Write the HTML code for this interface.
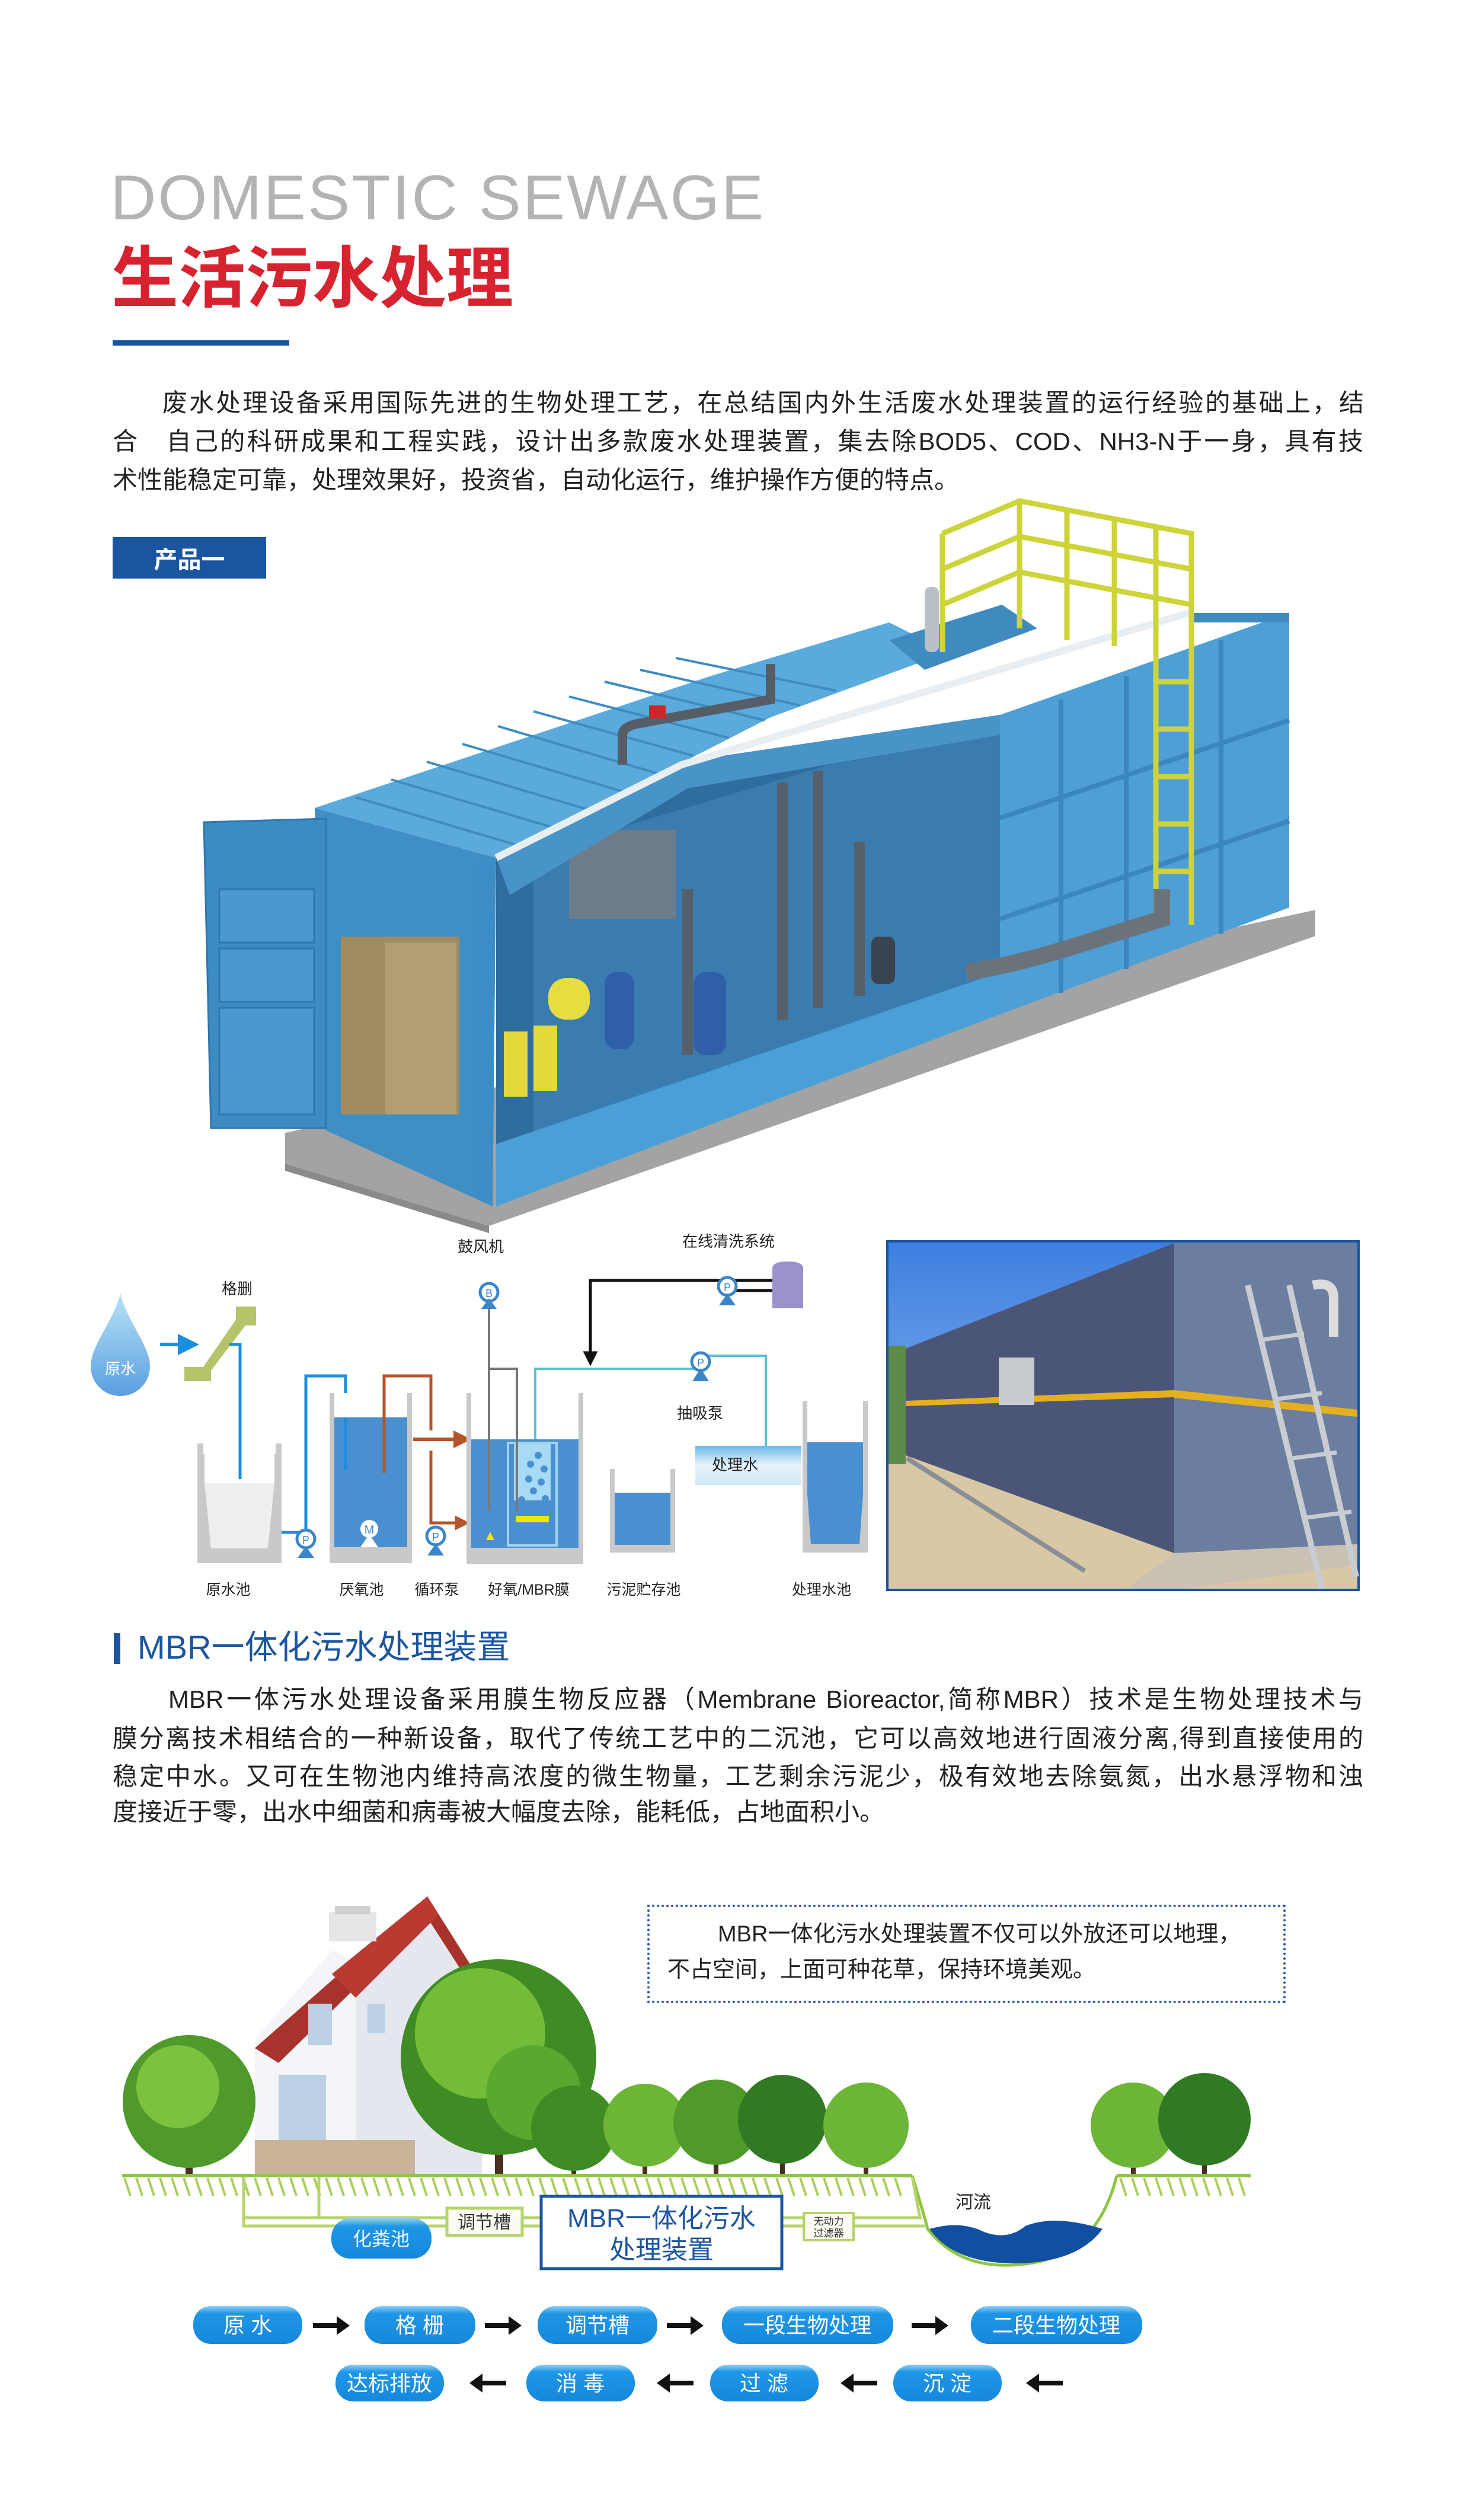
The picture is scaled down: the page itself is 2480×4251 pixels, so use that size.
<!DOCTYPE html>
<html><head><meta charset="utf-8">
<style>
html,body{margin:0;padding:0;background:#fff;}
body{width:2480px;height:4251px;position:relative;overflow:hidden;font-family:"Liberation Sans","Noto Sans CJK SC",sans-serif;}
.abs{position:absolute;}
.jl{position:absolute;left:190px;width:2110px;text-align:justify;text-align-last:justify;white-space:nowrap;color:#222;}
.p1{font-size:42px;line-height:42px;}
.p2{font-size:42px;line-height:42px;}
</style></head><body>

<div class="abs" style="left:186px;top:280px;font-size:107px;color:#b3b3b3;letter-spacing:3px;line-height:107px;white-space:nowrap;">DOMESTIC SEWAGE</div>
<div class="abs" style="left:188px;top:400px;font-size:113px;font-weight:bold;color:#d7232f;line-height:120px;white-space:nowrap;font-family:'Noto Sans CJK SC',sans-serif;">生活污水处理</div>
<div class="abs" style="left:190px;top:574px;width:298px;height:9px;background:#1b55a0;"></div>

<div class="jl p1" style="top:659px;left:274px;width:2027px;">废水处理设备采用国际先进的生物处理工艺，在总结国内外生活废水处理装置的运行经验的基础上，结</div>
<div class="jl p1" style="top:724px;">合　自己的科研成果和工程实践，设计出多款废水处理装置，集去除BOD5、COD、NH3-N于一身，具有技</div>
<div class="jl p1" style="top:789px;text-align-last:left;">术性能稳定可靠，处理效果好，投资省，自动化运行，维护操作方便的特点。</div>

<div class="abs" style="left:190px;top:906px;width:259px;height:70px;background:#1b55a0;color:#fff;font-weight:bold;font-size:40px;line-height:70px;text-align:center;font-family:'Noto Sans CJK SC',sans-serif;">产品一</div>

<div class="abs" style="left:192px;top:2755px;width:11px;height:52px;background:#1b55a0;"></div>
<div class="abs" style="left:232px;top:2746px;font-size:56px;line-height:66px;color:#1b55a0;white-space:nowrap;">MBR一体化污水处理装置</div>

<div class="jl p2" style="top:2846px;left:284px;width:2016px;">MBR一体污水处理设备采用膜生物反应器（Membrane Bioreactor,简称MBR）技术是生物处理技术与</div>
<div class="jl p2" style="top:2912px;">膜分离技术相结合的一种新设备，取代了传统工艺中的二沉池，它可以高效地进行固液分离,得到直接使用的</div>
<div class="jl p2" style="top:2976px;">稳定中水。又可在生物池内维持高浓度的微生物量，工艺剩余污泥少，极有效地去除氨氮，出水悬浮物和浊</div>
<div class="jl p2" style="top:3036px;text-align-last:left;">度接近于零，出水中细菌和病毒被大幅度去除，能耗低，占地面积小。</div>

<div class="abs" style="left:1092px;top:3213px;width:1069px;height:158px;border:4px dotted #2a5aa5;"></div>
<div class="abs" style="left:1211px;top:3243px;font-size:38px;line-height:40px;color:#222;white-space:nowrap;">MBR一体化污水处理装置不仅可以外放还可以地理，</div>
<div class="abs" style="left:1126px;top:3303px;font-size:38px;line-height:40px;color:#222;white-space:nowrap;">不占空间，上面可种花草，保持环境美观。</div>

<svg class="abs" style="left:0;top:0" width="2480" height="4251" viewBox="0 0 2480 4251" font-family="Liberation Sans, Noto Sans CJK SC, sans-serif">
<defs>
<linearGradient id="drop" x1="0" y1="0" x2="0" y2="1"><stop offset="0" stop-color="#b8e3f8"/><stop offset="1" stop-color="#5a9fe0"/></linearGradient>
<linearGradient id="band" x1="0" y1="0" x2="0" y2="1"><stop offset="0" stop-color="#6bb8ea"/><stop offset="0.5" stop-color="#e8f4fb"/><stop offset="1" stop-color="#cfe7f7"/></linearGradient>
<linearGradient id="pill" x1="0" y1="0" x2="0" y2="1"><stop offset="0" stop-color="#8fd0f5"/><stop offset="0.2" stop-color="#1f96e6"/><stop offset="1" stop-color="#1688dc"/></linearGradient>
<linearGradient id="sky" x1="0" y1="0" x2="0" y2="1"><stop offset="0" stop-color="#3d7fe0"/><stop offset="1" stop-color="#a8c8ee"/></linearGradient>
<marker id="ab" markerWidth="6" markerHeight="6" refX="3" refY="3" orient="auto"><path d="M0,0 L6,3 L0,6 z" fill="#1a8fe0"/></marker>
<marker id="ar" markerWidth="5" markerHeight="5" refX="2.5" refY="2.5" orient="auto"><path d="M0,0 L5,2.5 L0,5 z" fill="#b5532a"/></marker>
<marker id="ak" markerWidth="5" markerHeight="5" refX="2.5" refY="2.5" orient="auto"><path d="M0,0 L5,2.5 L0,5 z" fill="#111"/></marker>
</defs>

<!-- ===== container ===== -->
<polygon points="481,1911 2219,1535 2219,1579 825,2068 481,1963" fill="#a3a3a3"/>
<polygon points="481,1963 825,2068 825,2080 481,1975" fill="#8a8a8a"/>
<polygon points="531,1363 837,1447 831,2035 550,1907" fill="#3f8ec4"/>
<polygon points="344,1387 550,1381 550,1903 356,1903" fill="#3d8bc3" stroke="#2f77ad" stroke-width="3"/>
<rect x="370" y="1500" width="160" height="90" fill="#4b98cf" stroke="#2f77ad" stroke-width="3"/>
<rect x="370" y="1600" width="160" height="90" fill="#4b98cf" stroke="#2f77ad" stroke-width="3"/>
<rect x="370" y="1700" width="160" height="180" fill="#4b98cf" stroke="#2f77ad" stroke-width="3"/>
<polygon points="837,1447 1160,1290 1687,1206 1687,1711 837,2020" fill="#2f6d9e"/>
<polygon points="900,1440 1400,1290 1687,1240 1687,1700 900,1980" fill="#3a7cb0"/>
<rect x="575" y="1580" width="200" height="300" fill="#a08c62"/>
<rect x="650" y="1590" width="120" height="290" fill="#b29e72"/>
<rect x="960" y="1400" width="180" height="150" fill="#6c7c8a"/>
<rect x="1020" y="1640" width="50" height="130" rx="20" fill="#2f5fa8"/>
<rect x="1170" y="1640" width="55" height="140" rx="20" fill="#2f5fa8"/>
<rect x="850" y="1740" width="40" height="110" fill="#e3d93a"/>
<rect x="900" y="1730" width="40" height="110" fill="#e3d93a"/>
<rect x="925" y="1650" width="70" height="70" rx="30" fill="#e6dd40"/>
<g stroke="#55606a" stroke-width="18" fill="none">
<path d="M1320 1320 V1720"/><path d="M1380 1300 V1700"/><path d="M1160 1500 V1780"/><path d="M1450 1420 V1680"/>
</g>
<rect x="1470" y="1580" width="40" height="80" rx="12" fill="#3a4450"/>
<polygon points="837,1930 1687,1640 1687,1711 837,2035" fill="#4aa0d6"/>
<polygon points="800,1460 837,1447 831,2035 800,2020" fill="#3c8dc5"/>
<polygon points="531,1363 837,1447 1300,1210 1600,1100 1500,1050 1200,1140" fill="#5aaade"/>
<g stroke="#3f8bc0" stroke-width="4">
<line x1="600" y1="1345" x2="870" y2="1425"/><line x1="660" y1="1315" x2="930" y2="1395"/><line x1="720" y1="1285" x2="990" y2="1365"/><line x1="780" y1="1255" x2="1050" y2="1335"/><line x1="840" y1="1225" x2="1110" y2="1305"/><line x1="900" y1="1200" x2="1170" y2="1275"/><line x1="960" y1="1175" x2="1230" y2="1245"/><line x1="1020" y1="1150" x2="1290" y2="1215"/><line x1="1080" y1="1130" x2="1350" y2="1190"/><line x1="1140" y1="1110" x2="1410" y2="1165"/>
</g>
<polygon points="837,1447 1150,1285 1687,1206 1687,1240 1160,1330 860,1510" fill="#4893c8"/>
<polyline points="837,1447 1150,1290 2006,1034" fill="none" stroke="#e8eef2" stroke-width="12"/>
<polygon points="1687,1206 2175,1034 2175,1531 1687,1711" fill="#4d9fd6"/>
<polygon points="2006,1034 2175,1034 2175,1050 2006,1050" fill="#3f8bc0"/>
<g stroke="#3a86bd" stroke-width="8" fill="none">
<line x1="1790" y1="1180" x2="1790" y2="1675"/><line x1="1900" y1="1140" x2="1900" y2="1635"/><line x1="2060" y1="1080" x2="2060" y2="1575"/>
<line x1="1687" y1="1380" x2="2175" y2="1215"/><line x1="1687" y1="1550" x2="2175" y2="1385"/>
</g>
<polygon points="1500,1080 1690,1020 1750,1060 1560,1130" fill="#3f8bc0"/>
<path d="M1050 1290 V1240 Q1050 1225 1080 1220 L1300 1180 V1120" stroke="#555e66" stroke-width="16" fill="none"/>
<rect x="1095" y="1190" width="28" height="22" fill="#c8282a"/>
<rect x="1560" y="990" width="24" height="110" rx="10" fill="#b8bfc6"/>
<g stroke="#cdd43a" stroke-width="9" fill="none">
<polyline points="1590,900 1590,1100"/><polyline points="1590,900 1720,845 2010,900 2010,1100"/>
<polyline points="1590,960 1720,905 2010,960"/><polyline points="1590,1020 1720,965 2010,1020"/>
<line x1="1720" y1="845" x2="1720" y2="1060"/><line x1="1800" y1="860" x2="1800" y2="1080"/><line x1="1880" y1="875" x2="1880" y2="1090"/><line x1="1950" y1="890" x2="1950" y2="1095"/>
<line x1="1950" y1="1070" x2="1950" y2="1560"/><line x1="2010" y1="1060" x2="2010" y2="1560"/>
<line x1="1950" y1="1150" x2="2010" y2="1150"/><line x1="1950" y1="1230" x2="2010" y2="1230"/><line x1="1950" y1="1310" x2="2010" y2="1310"/><line x1="1950" y1="1390" x2="2010" y2="1390"/><line x1="1950" y1="1470" x2="2010" y2="1470"/>
</g>
<path d="M1630 1640 Q1700 1630 1800 1600 L1960 1550 V1500" stroke="#6b737a" stroke-width="28" fill="none"/>

<!-- ===== process diagram ===== -->
<g font-size="26" fill="#222" text-anchor="middle">
<path d="M203 2182 C215 2230 253 2270 253 2305 A50 50 0 0 1 153 2305 C153 2270 191 2230 203 2182z" fill="url(#drop)"/>
<text x="203" y="2318" fill="#fff" font-size="26">原水</text>
<text x="400" y="2183">格删</text>
<polygon points="398,2204 432,2204 432,2236 414,2236 356,2312 356,2330 311,2330 311,2306 343,2306 398,2226" fill="#b5c46a"/>
<line x1="270" y1="2268" x2="318" y2="2268" stroke="#1a8fe0" stroke-width="6" marker-end="url(#ab)"/>
<path d="M387 2268 H405 V2490" stroke="#1a8fe0" stroke-width="5" fill="none" marker-end="url(#ab)"/>
<rect x="333" y="2435" width="142" height="202" fill="#c9c9c9"/>
<rect x="345" y="2435" width="118" height="67" fill="#fff"/>
<polygon points="345,2502 463,2502 452,2612 356,2612" fill="#eeeeee"/>
<rect x="343" y="2435" width="12" height="18" fill="#fff"/><rect x="453" y="2435" width="12" height="18" fill="#fff"/>
<path d="M405 2270 V2495" stroke="#1a8fe0" stroke-width="5"/>
<path d="M475 2585 H510" stroke="#1a8fe0" stroke-width="5"/>
<path d="M516 2590 V2321 H583 V2480" stroke="#1a8fe0" stroke-width="5" fill="none" marker-end="url(#ab)"/>
<rect x="556" y="2350" width="139" height="287" fill="#c9c9c9"/>
<rect x="564" y="2350" width="123" height="41" fill="#fff"/>
<polygon points="564,2391 687,2391 687,2610 564,2610" fill="#4a90d0"/>
<path d="M583 2391 V2480" stroke="#1a8fe0" stroke-width="5"/>
<circle cx="623" cy="2579" r="15" fill="#fff"/><text x="623" y="2587" font-size="20" fill="#4a90d0">M</text>
<polygon points="608,2610 638,2610 623,2588" fill="#fff"/>
<path d="M648 2485 V2321 H727 V2413" stroke="#b5532a" stroke-width="5" fill="none"/>
<path d="M697 2428 H780" stroke="#b5532a" stroke-width="6" fill="none" marker-end="url(#ar)"/>
<path d="M727 2447 V2569 H780" stroke="#b5532a" stroke-width="5" fill="none" marker-end="url(#ar)"/>
<rect x="787" y="2350" width="197" height="288" fill="#c9c9c9"/>
<rect x="795" y="2350" width="181" height="78" fill="#fff"/>
<rect x="795" y="2428" width="181" height="183" fill="#4a90d0"/>
<rect x="857" y="2434" width="82" height="173" fill="none" stroke="#9fd3f0" stroke-width="4"/>
<rect x="867" y="2436" width="62" height="95" fill="#a7daf4"/>
<g fill="#4a90d0"><circle cx="908" cy="2455" r="6"/><circle cx="895" cy="2470" r="6"/><circle cx="918" cy="2478" r="6"/><circle cx="892" cy="2495" r="6"/><circle cx="913" cy="2500" r="6"/><circle cx="900" cy="2515" r="6"/><circle cx="880" cy="2530" r="6"/><circle cx="920" cy="2528" r="6"/></g>
<rect x="870" y="2557" width="56" height="11" fill="#f2e600"/>
<polygon points="820,2598 834,2598 827,2584" fill="#f2e600"/>
<text x="811" y="2112">鼓风机</text>
<circle cx="825" cy="2180" r="15" fill="#fff" stroke="#3a86c8" stroke-width="5"/><text x="825" y="2188" font-size="18" fill="#3a86c8">B</text>
<polygon points="812,2208 838,2208 825,2190" fill="#3a86c8"/>
<path d="M825 2208 V2548" stroke="#777" stroke-width="4"/>
<path d="M825 2309 H872 V2548" stroke="#777" stroke-width="4" fill="none"/>
<text x="1229" y="2103">在线清洗系统</text>
<path d="M1303 2160 H996 V2292" stroke="#111" stroke-width="5" fill="none" marker-end="url(#ak)"/>
<path d="M1240 2177 H1303" stroke="#111" stroke-width="5"/>
<circle cx="1227" cy="2170" r="15" fill="#fff" stroke="#3a86c8" stroke-width="5"/><text x="1227" y="2178" font-size="18" fill="#3a86c8">P</text>
<polygon points="1213,2202 1241,2202 1227,2182" fill="#3a86c8"/>
<path d="M1303 2207 V2140 Q1303 2128 1329 2128 Q1355 2128 1355 2140 V2207z" fill="#9a92c8"/>
<path d="M903 2428 V2309 H1170" stroke="#5cc0d0" stroke-width="4" fill="none"/>
<path d="M1195 2287 H1292 V2439" stroke="#5cc0d0" stroke-width="4" fill="none"/>
<circle cx="1182" cy="2297" r="15" fill="#fff" stroke="#3a86c8" stroke-width="5"/><text x="1182" y="2305" font-size="18" fill="#3a86c8">P</text>
<polygon points="1168,2330 1196,2330 1182,2308" fill="#3a86c8"/>
<text x="1181" y="2393">抽吸泵</text>
<rect x="1173" y="2439" width="179" height="66" fill="url(#band)"/>
<text x="1240" y="2480">处理水</text>
<rect x="1029" y="2478" width="110" height="141" fill="#c9c9c9"/>
<rect x="1037" y="2478" width="94" height="40" fill="#fff"/>
<rect x="1037" y="2518" width="94" height="88" fill="#4a90d0"/>
<rect x="1354" y="2363" width="110" height="256" fill="#c9c9c9"/>
<rect x="1362" y="2363" width="94" height="70" fill="#fff"/>
<polygon points="1362,2433 1456,2433 1456,2520 1450,2605 1368,2605 1362,2520" fill="#4a90d0"/>
<circle cx="516" cy="2596" r="15" fill="#fff" stroke="#3a86c8" stroke-width="5"/><text x="516" y="2604" font-size="18" fill="#3a86c8">P</text>
<polygon points="502,2628 530,2628 516,2608" fill="#3a86c8"/>
<circle cx="735" cy="2591" r="15" fill="#fff" stroke="#3a86c8" stroke-width="5"/><text x="735" y="2599" font-size="18" fill="#3a86c8">P</text>
<polygon points="721,2624 749,2624 735,2604" fill="#3a86c8"/>
<g font-size="25"><text x="385" y="2690">原水池</text><text x="610" y="2690">厌氧池</text><text x="737" y="2690">循环泵</text><text x="892" y="2690">好氧/MBR膜</text><text x="1086" y="2690">污泥贮存池</text><text x="1386" y="2690">处理水池</text></g>
</g>

<!-- ===== photo ===== -->
<rect x="1497" y="2094" width="795" height="588" fill="url(#sky)" stroke="#1b55a0" stroke-width="4"/>
<polygon points="1499,2450 2290,2520 2290,2680 1499,2680" fill="#d9c8a6"/>
<polygon points="1499,2270 1528,2270 1528,2470 1499,2470" fill="#5e8a4a"/>
<polygon points="1528,2275 1981,2097 1981,2620 1528,2455" fill="#4b5577"/>
<polygon points="1981,2097 2290,2097 2290,2605 1981,2620" fill="#6c7ea0"/>
<polygon points="1528,2363 1981,2345 1981,2357 1528,2372" fill="#e5b020"/>
<polygon points="1981,2345 2290,2378 2290,2390 1981,2358" fill="#e5b020"/>
<polygon points="1981,2620 2290,2605 2290,2640 2000,2680 1900,2680" fill="#c9c2b4"/>
<rect x="1685" y="2290" width="60" height="80" fill="#c8ccd0"/>
<g stroke="#c9cdd1" stroke-width="10"><line x1="2105" y1="2168" x2="2230" y2="2680"/><line x1="2175" y1="2168" x2="2288" y2="2660"/></g>
<g stroke="#c9cdd1" stroke-width="7"><line x1="2130" y1="2260" x2="2200" y2="2250"/><line x1="2155" y1="2360" x2="2230" y2="2350"/><line x1="2180" y1="2460" x2="2255" y2="2450"/><line x1="2205" y1="2560" x2="2280" y2="2550"/></g>
<path d="M2215 2168 Q2250 2160 2250 2190 V2255" stroke="#dcdcdc" stroke-width="16" fill="none"/>
<line x1="1530" y1="2460" x2="1830" y2="2650" stroke="#8a8f96" stroke-width="8"/>

<!-- ===== scene ===== -->
<!-- house -->
<polygon points="430,3440 560,3290 600,3310 600,3668 430,3668" fill="#f3f5f8"/>
<polygon points="600,3310 721,3220 813,3345 813,3668 600,3668" fill="#e4e8ee"/>
<polygon points="721,3199 813,3345 795,3350 721,3235 470,3480 430,3455" fill="#a8322c"/>
<polygon points="721,3199 740,3230 600,3370 560,3330" fill="#b83a31"/>
<rect x="555" y="3225" width="80" height="50" fill="#e6e6e6"/>
<rect x="565" y="3215" width="60" height="14" fill="#cfcfcf"/>
<rect x="470" y="3500" width="80" height="120" fill="#bcd0e6"/>
<rect x="520" y="3380" width="40" height="70" fill="#bcd0e6"/>
<rect x="620" y="3380" width="30" height="50" fill="#bcd0e6"/>
<rect x="430" y="3610" width="270" height="58" fill="#c9b49a"/>
<!-- trees -->
<g>
<rect x="313" y="3560" width="12" height="110" fill="#4a3020"/>
<circle cx="319" cy="3545" r="112" fill="#4f9a2a"/><circle cx="300" cy="3520" r="70" fill="#7cc23e"/>
<rect x="835" y="3500" width="14" height="170" fill="#4a3020"/>
<circle cx="841" cy="3470" r="165" fill="#3f8c25"/><circle cx="810" cy="3430" r="110" fill="#74bb38"/><circle cx="900" cy="3530" r="80" fill="#5aa82e"/>
<g fill="#4a3020"><rect x="964" y="3600" width="8" height="70"/><rect x="1084" y="3600" width="8" height="70"/><rect x="1204" y="3600" width="8" height="70"/><rect x="1316" y="3600" width="8" height="70"/><rect x="1457" y="3600" width="8" height="70"/><rect x="1908" y="3600" width="8" height="70"/><rect x="2028" y="3600" width="8" height="70"/></g>
<circle cx="968" cy="3590" r="72" fill="#3f8c25"/><circle cx="1088" cy="3585" r="70" fill="#6cb536"/><circle cx="1208" cy="3580" r="72" fill="#4f9a2a"/><circle cx="1320" cy="3575" r="75" fill="#2f7a22"/><circle cx="1461" cy="3585" r="72" fill="#6cb536"/>
<circle cx="1912" cy="3585" r="72" fill="#6cb536"/><circle cx="2032" cy="3575" r="78" fill="#2f7a22"/>
</g>
<line x1="206" y1="3670" x2="1539" y2="3670" stroke="#8dc63f" stroke-width="6"/>
<line x1="1884" y1="3670" x2="2110" y2="3670" stroke="#8dc63f" stroke-width="6"/>
<path d="M210 3674 l10 30 M230 3674 l10 30 M250 3674 l10 30 M270 3674 l10 30 M290 3674 l10 30 M310 3674 l10 30 M330 3674 l10 30 M350 3674 l10 30 M370 3674 l10 30 M390 3674 l10 30 M410 3674 l10 30 M430 3674 l10 30 M450 3674 l10 30 M470 3674 l10 30 M490 3674 l10 30 M510 3674 l10 30 M530 3674 l10 30 M550 3674 l10 30 M570 3674 l10 30 M590 3674 l10 30 M610 3674 l10 30 M630 3674 l10 30 M650 3674 l10 30 M670 3674 l10 30 M690 3674 l10 30 M710 3674 l10 30 M730 3674 l10 30 M750 3674 l10 30 M770 3674 l10 30 M790 3674 l10 30 M810 3674 l10 30 M830 3674 l10 30 M850 3674 l10 30 M870 3674 l10 30 M890 3674 l10 30 M910 3674 l10 30 M930 3674 l10 30 M950 3674 l10 30 M970 3674 l10 30 M990 3674 l10 30 M1010 3674 l10 30 M1030 3674 l10 30 M1050 3674 l10 30 M1070 3674 l10 30 M1090 3674 l10 30 M1110 3674 l10 30 M1130 3674 l10 30 M1150 3674 l10 30 M1170 3674 l10 30 M1190 3674 l10 30 M1210 3674 l10 30 M1230 3674 l10 30 M1250 3674 l10 30 M1270 3674 l10 30 M1290 3674 l10 30 M1310 3674 l10 30 M1330 3674 l10 30 M1350 3674 l10 30 M1370 3674 l10 30 M1390 3674 l10 30 M1410 3674 l10 30 M1430 3674 l10 30 M1450 3674 l10 30 M1470 3674 l10 30 M1490 3674 l10 30 M1510 3674 l10 30 M1890 3674 l10 30 M1910 3674 l10 30 M1930 3674 l10 30 M1950 3674 l10 30 M1970 3674 l10 30 M1990 3674 l10 30 M2010 3674 l10 30 M2030 3674 l10 30 M2050 3674 l10 30 M2070 3674 l10 30 M2090 3674 l10 30" stroke="#a7cf5a" stroke-width="4"/>
<path d="M1539 3670 Q1560 3740 1565 3760 Q1620 3830 1720 3820 Q1850 3810 1884 3670" fill="none" stroke="#8dc63f" stroke-width="5"/>
<path d="M1568 3760 Q1620 3745 1660 3765 Q1700 3780 1730 3755 Q1780 3735 1860 3760 Q1820 3815 1720 3818 Q1610 3820 1568 3760z" fill="#114fa0"/>
<text x="1642" y="3725" font-size="30" fill="#222" text-anchor="middle">河流</text>
<g fill="none" stroke="#b6d46a" stroke-width="5">
<path d="M411 3672 V3741 H912"/><path d="M411 3672 V3755 H912"/><path d="M538 3672 V3741"/>
<path d="M1321 3741 H1552 L1539 3672"/><path d="M1321 3755 H1560"/>
</g>
<rect x="559" y="3742" width="169" height="68" rx="32" fill="url(#pill)"/>
<text x="643" y="3788" font-size="32" fill="#e8f4ff" text-anchor="middle">化粪池</text>
<rect x="754" y="3725" width="127" height="46" fill="#fbfbf2" stroke="#b6d46a" stroke-width="5"/>
<text x="817" y="3759" font-size="30" fill="#333" text-anchor="middle">调节槽</text>
<rect x="913" y="3705" width="406" height="122" fill="#fff" stroke="#1b55a0" stroke-width="5"/>
<text x="1116" y="3757" font-size="44" fill="#1b55a0" text-anchor="middle">MBR一体化污水</text>
<text x="1116" y="3810" font-size="44" fill="#1b55a0" text-anchor="middle">处理装置</text>
<rect x="1356" y="3733" width="84" height="46" fill="#fbfbf2" stroke="#b6d46a" stroke-width="4"/>
<text x="1398" y="3753" font-size="17" fill="#333" text-anchor="middle">无动力</text>
<text x="1398" y="3773" font-size="17" fill="#333" text-anchor="middle">过滤器</text>

<g font-size="36" fill="#fff" text-anchor="middle">
<rect x="326" y="3890" width="184" height="64" rx="30" fill="url(#pill)"/><text x="418" y="3935">原 水</text>
<rect x="615" y="3890" width="187" height="64" rx="30" fill="url(#pill)"/><text x="708" y="3935">格 栅</text>
<rect x="907" y="3890" width="202" height="64" rx="30" fill="url(#pill)"/><text x="1008" y="3935">调节槽</text>
<rect x="1218" y="3890" width="289" height="64" rx="30" fill="url(#pill)"/><text x="1362" y="3935">一段生物处理</text>
<rect x="1638" y="3890" width="289" height="64" rx="30" fill="url(#pill)"/><text x="1782" y="3935">二段生物处理</text>
<rect x="566" y="3989" width="183" height="62" rx="30" fill="url(#pill)"/><text x="657" y="4033">达标排放</text>
<rect x="888" y="3989" width="183" height="62" rx="30" fill="url(#pill)"/><text x="979" y="4033">消 毒</text>
<rect x="1198" y="3989" width="183" height="62" rx="30" fill="url(#pill)"/><text x="1289" y="4033">过 滤</text>
<rect x="1507" y="3989" width="183" height="62" rx="30" fill="url(#pill)"/><text x="1598" y="4033">沉 淀</text>
</g>
<g fill="#111">
<path d="M528 3919 h40 v-12 l22 16 l-22 16 v-12 h-40z"/>
<path d="M818 3919 h40 v-12 l22 16 l-22 16 v-12 h-40z"/>
<path d="M1125 3919 h40 v-12 l22 16 l-22 16 v-12 h-40z"/>
<path d="M1538 3919 h40 v-12 l22 16 l-22 16 v-12 h-40z"/>
<path d="M854 4016 h-40 v-12 l-22 16 l22 16 v-12 h40z"/>
<path d="M1170 4016 h-40 v-12 l-22 16 l22 16 v-12 h40z"/>
<path d="M1480 4016 h-40 v-12 l-22 16 l22 16 v-12 h40z"/>
<path d="M1793 4016 h-40 v-12 l-22 16 l22 16 v-12 h40z"/>
</g>
</svg>
</body></html>
